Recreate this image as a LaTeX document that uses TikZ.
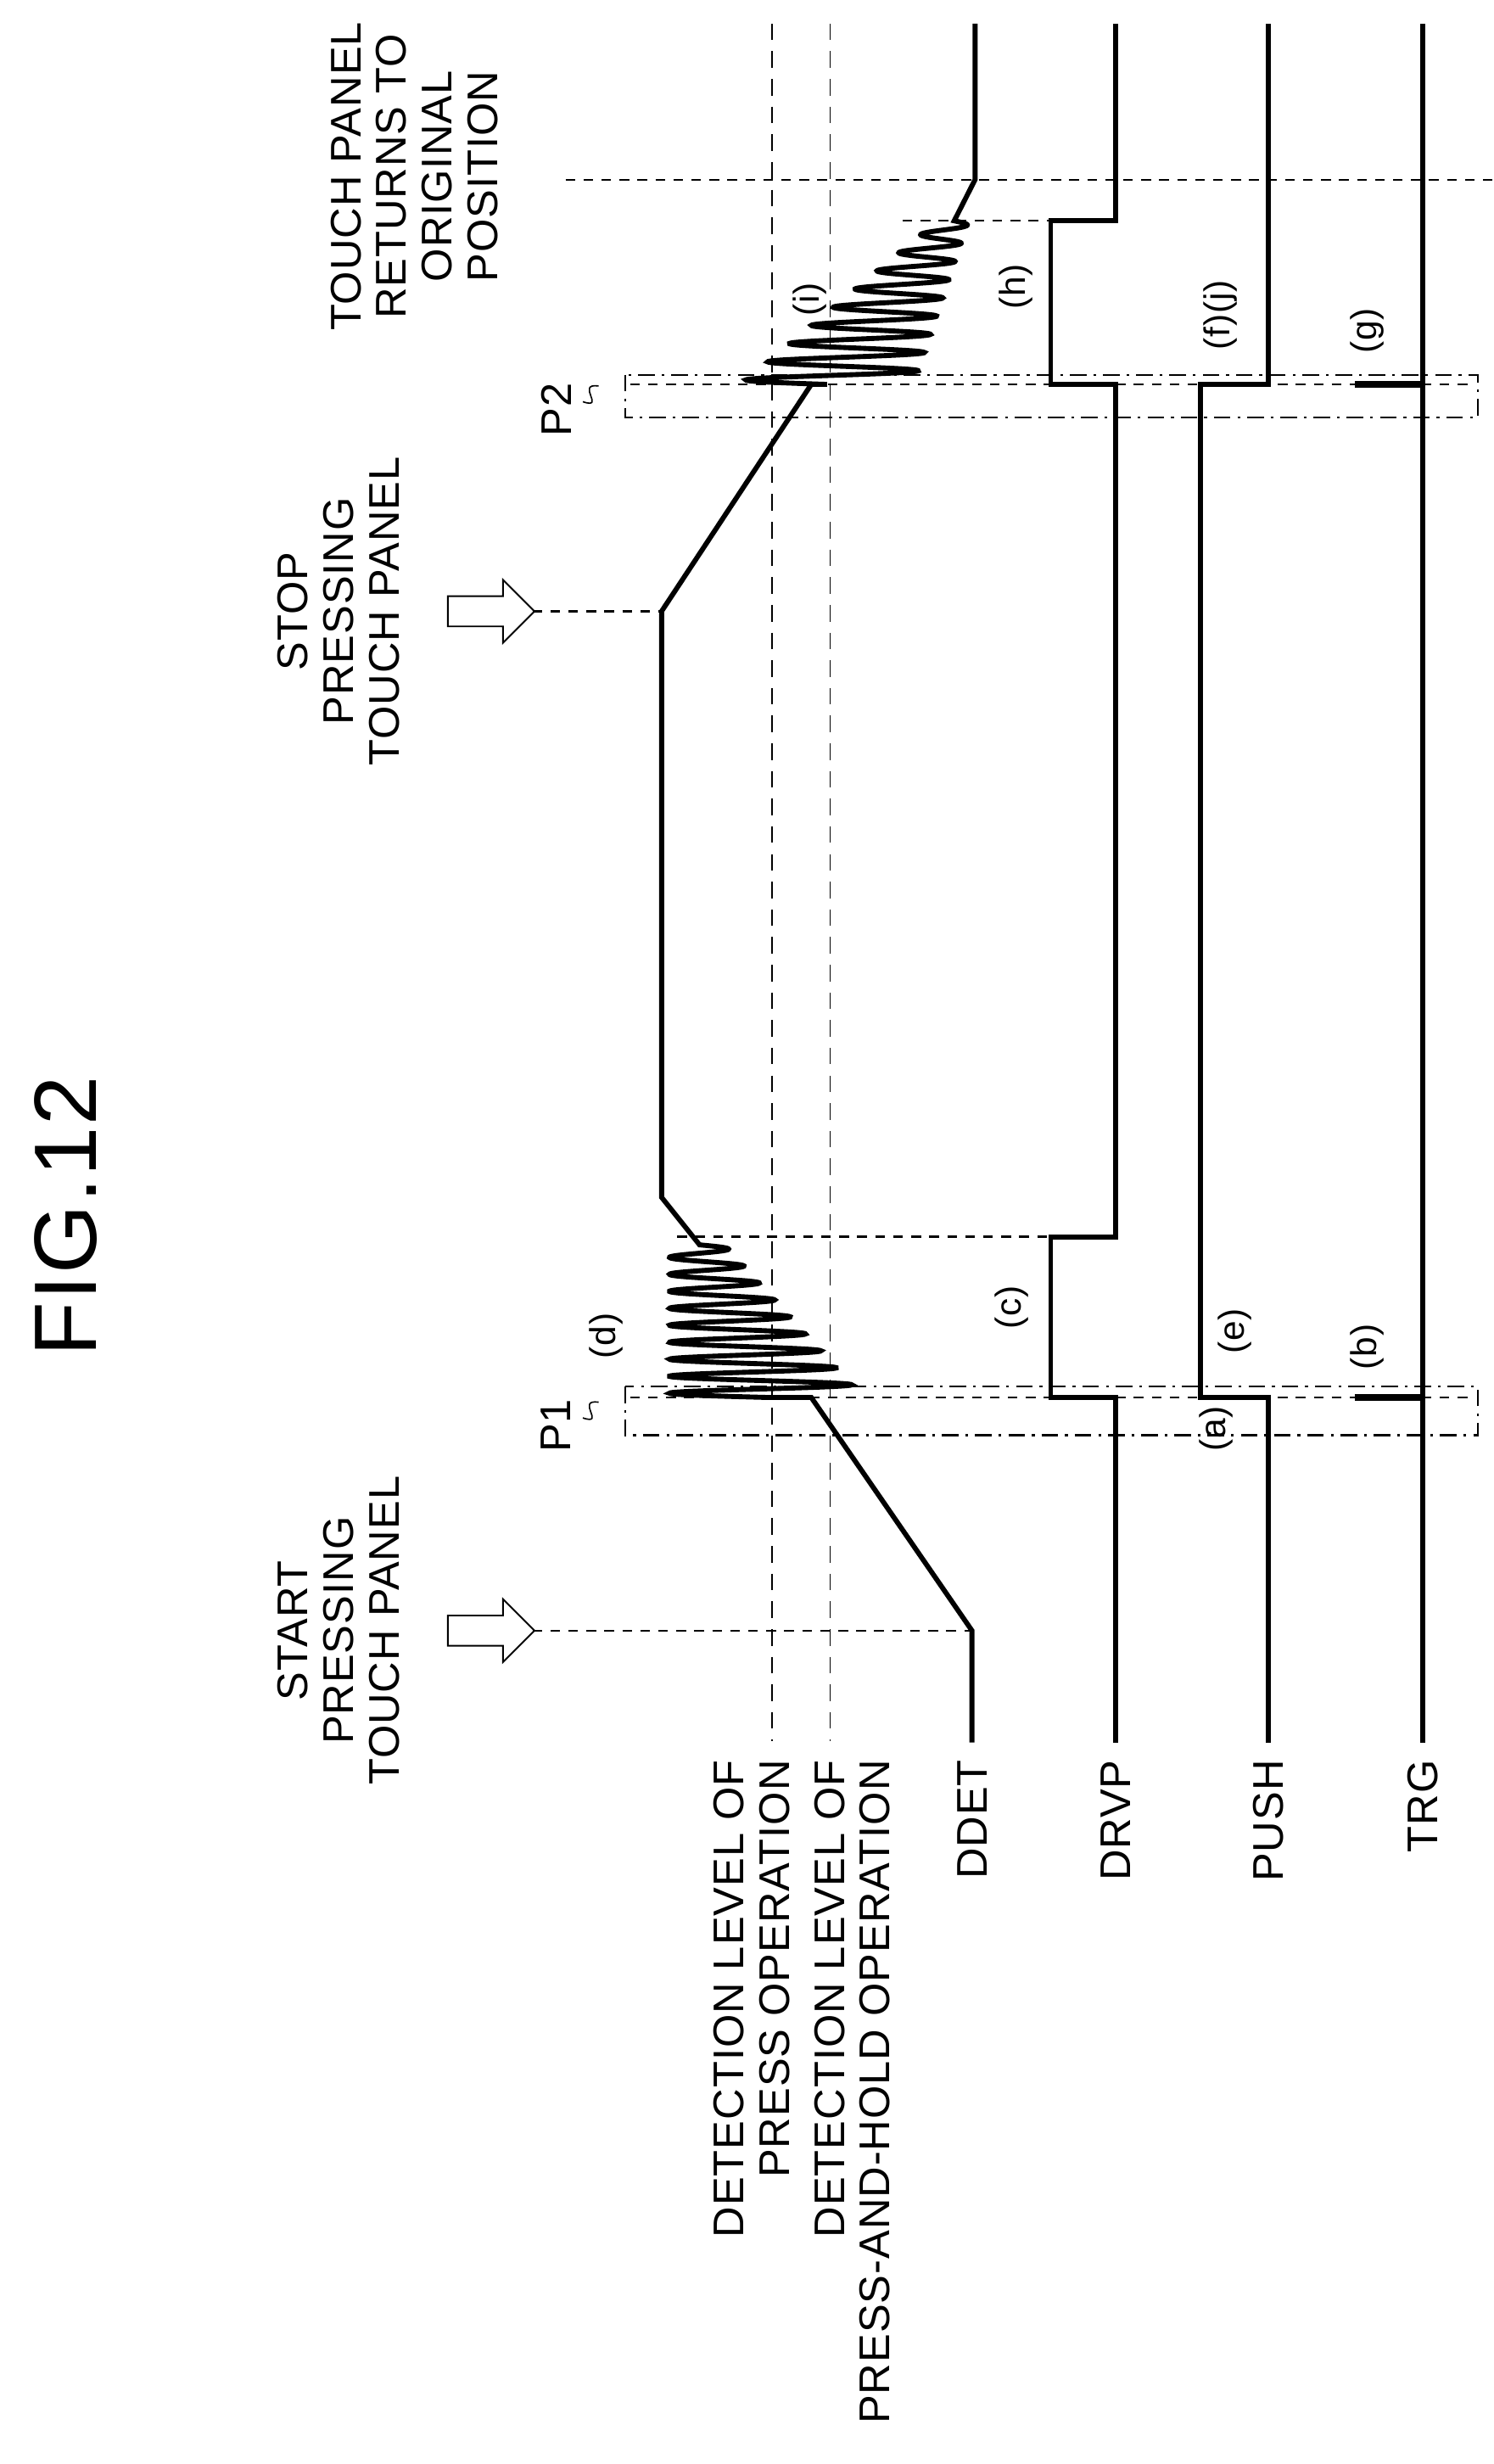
\documentclass[tikz,border=0pt]{standalone}
\usepackage{fontspec}
\setmainfont[LetterSpace=2]{Liberation Sans}
\usetikzlibrary{shapes.arrows}
\tikzset{
	sig/.style={line width=1.8pt, line join=miter},
	levline/.style={line width=0.5pt, dash pattern=on 6pt off 4pt},
	timeline/.style={line width=0.7pt, dash pattern=on 3.5pt off 3pt},
	boxline/.style={line width=0.7pt, dash pattern=on 6pt off 2.5pt on 1pt off 2.5pt},
	lbl/.style={rotate=90, font=\fontsize{15.5}{16.5}\selectfont, inner sep=1pt},
	signame/.style={lbl, anchor=east},
	marklbl/.style={lbl, font=\fontsize{13}{15}\selectfont},
	hollowarrow/.style={single arrow, draw, line width=0.6pt, minimum height=11mm, minimum width=8mm, single arrow head extend=1.2mm, inner sep=1mm}
}
\begin{document}
\begin{tikzpicture}[x=0.02cm, y=-0.02cm]
	\useasboundingbox (0,0) rectangle (948,1564);
	% titles
	\node[rotate=90, font=\fontsize{32}{36}\selectfont] (fig) at (42,772) {FIG.12};
	\node[lbl, align=center] (start) at (215,1035) {START\\PRESSING\\TOUCH PANEL};
	\node[lbl, align=center] (stop) at (215,388) {STOP\\PRESSING\\TOUCH PANEL};
	\node[lbl, align=center] (ret) at (263,112) {TOUCH PANEL\\RETURNS TO\\ORIGINAL\\POSITION};
	\node[hollowarrow] (a1) at (307,1035) {};
	\node[hollowarrow] (a2) at (307,388) {};
	% level labels
	\node[signame, align=right] (lv1) at (477,1115) {DETECTION LEVEL OF\\PRESS OPERATION};
	\node[signame, align=right] (lv2) at (541,1115) {DETECTION LEVEL OF\\PRESS-AND-HOLD OPERATION};
	\node[signame] (ddet) at (617,1115) {DDET};
	\node[signame] (drvp) at (708,1115) {DRVP};
	\node[signame] (push) at (805,1115) {PUSH};
	\node[signame] (trg) at (903,1115) {TRG};
	% level lines
	\coordinate (l1t) at (490,15); \coordinate (l1b) at (490,1105);
	\coordinate (l2t) at (527,15); \coordinate (l2b) at (527,1105);
	\draw[levline] (l1t) -- (l1b);
	\draw[levline] (l2t) -- (l2b);
	% time lines
	\coordinate (s0) at (338,1035); \coordinate (s1) at (617,1035);
	\coordinate (t0) at (338,388); \coordinate (t1) at (420,388);
	\coordinate (r0) at (359,114); \coordinate (r1) at (948,114);
	\coordinate (p1a) at (400,887); \coordinate (p1b) at (935,887);
	\coordinate (p2a) at (400,244); \coordinate (p2b) at (935,244);
	\coordinate (c0) at (430,785); \coordinate (c1) at (667,785);
	\coordinate (h0) at (573,140); \coordinate (h1) at (667,140);
	\draw[timeline] (s0) -- (s1);
	\draw[timeline] (t0) -- (t1);
	\draw[timeline] (r0) -- (r1);
	\draw[timeline] (p1a) -- (p1b);
	\draw[timeline] (p2a) -- (p2b);
	\draw[timeline] (c0) -- (c1);
	\draw[timeline] (h0) -- (h1);
	% P1 / P2 boxes
	\draw[boxline] (397,880) rectangle (938,911);
	\draw[boxline] (397,238) rectangle (938,265);
	\node[lbl] (p1) at (353,905) {P1};
	\node[lbl] (p2) at (353,260) {P2};
	\draw[line width=0.5pt] (370,900) .. controls (385,905) and (365,888) .. (380,890);
	\draw[line width=0.5pt] (370,255) .. controls (385,260) and (365,243) .. (380,245);
	% DDET
	\draw[sig] (617,1106) -- (617,1035) -- (515,887) -- (486,887)
		plot[domain=0:1, samples=400, smooth] ({486.5-44*\x+(61.5-44*\x)*sin(-3240*\x)}, {887-97*\x})
		-- (420,760) -- (420,388) -- (515,244) -- (525,244)
		plot[domain=0:1, samples=400, smooth] ({525+80*\x+(55-45*\x)*sin(-3240*\x)}, {244-104*\x})
		-- (619,114) -- (619,15);
	% DRVP
	\draw[sig] (708,1106) -- (708,887) -- (667,887) -- (667,785) -- (708,785)
		-- (708,244) -- (667,244) -- (667,140) -- (708,140) -- (708,15);
	% PUSH
	\draw[sig] (805,1106) -- (805,887) -- (762,887) -- (762,244) -- (805,244) -- (805,15);
	% TRG
	\draw[sig] (903,1106) -- (903,15);
	\draw[sig, line width=2.5pt] (860,887) -- (903,887);
	\draw[sig, line width=2.5pt] (860,244) -- (903,244);
	% marks
	\node[marklbl] (md) at (385,848) {(d)};
	\node[marklbl] (mc) at (642,830) {(c)};
	\node[marklbl] (me) at (784,845) {(e)};
	\node[marklbl] (ma) at (772,907) {(a)};
	\node[marklbl] (mb) at (868,855) {(b)};
	\node[marklbl] (mi) at (514,190) {(i)};
	\node[marklbl] (mh) at (645,182) {(h)};
	\node[marklbl] (mfj) at (775,200) {(f)(j)};
	\node[marklbl] (mg) at (868,210) {(g)};
\end{tikzpicture}
\end{document}
